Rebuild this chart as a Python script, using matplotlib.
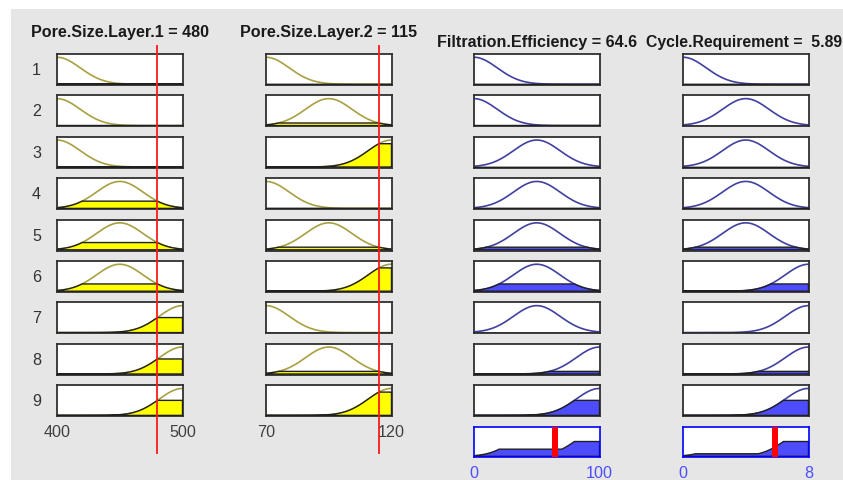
import numpy as np
import matplotlib
matplotlib.use("Agg")
import matplotlib.pyplot as plt
from matplotlib.patches import Rectangle, Polygon
from matplotlib import transforms

plt.rcParams['font.family'] = ['Liberation Sans', 'DejaVu Sans']

# ---------------- data ----------------
input_names = ["Pore.Size.Layer.1", "Pore.Size.Layer.2"]
input_ranges = [(400, 500), (70, 120)]
input_values = [480, 115]
input_value_labels = ["480", "115"]

output_names = ["Filtration.Efficiency", "Cycle.Requirement"]
output_ranges = [(0, 100), (0, 8)]
output_values = [64.6, 5.89]
output_value_labels = ["64.6", " 5.89"]

# gaussian MF centres (fraction of range) : low, mid, high ; common width
mf_centers = [0.0, 0.5, 1.0]
mf_sigma = 0.185

# rules: (input1 MF, input2 MF, output1 MF, output2 MF), 1-based
rules = [
    (1, 1, 1, 1),
    (1, 2, 1, 2),
    (1, 3, 2, 2),
    (2, 1, 2, 2),
    (2, 2, 2, 2),
    (2, 3, 2, 3),
    (3, 1, 2, 3),
    (3, 2, 3, 3),
    (3, 3, 3, 3),
]
rule_labels = [str(i + 1) for i in range(len(rules))]

# ---------------- styles ----------------
W, H = 843, 481
DPI = 100
bg_gray = "#e6e6e6"
in_line = "#a8a040"
in_fill = "#ffff00"
out_line = "#4040a0"
out_fill = "#4d4dff"
frame_col = "#303030"
FS = 11.6

col_x0 = [57, 266, 474, 683]
col_w = 125.5
row_top0 = 55
row_step = 41.4
row_h = 31

fig = plt.figure(figsize=(W / DPI, H / DPI), dpi=DPI, facecolor="white")
bgax = fig.add_axes([0, 0, 1, 1])
bgax.set_xlim(0, W)
bgax.set_ylim(H, 0)
bgax.axis("off")
bgax.add_patch(Rectangle((11, 10), W, H, color=bg_gray, lw=0))


def rect(x0, ytop, w, h):
    return [x0 / W, 1 - (ytop + h) / H, w / W, h / H]


def gauss(xf, c):
    return np.exp(-((xf - c) ** 2) / (2 * mf_sigma ** 2))


xf = np.linspace(0, 1, 301)

# input memberships and firing strengths
in_mu = []
for k in range(2):
    lo, hi = input_ranges[k]
    vf = (input_values[k] - lo) / (hi - lo)
    in_mu.append([gauss(vf, c) for c in mf_centers])
strengths = [min(in_mu[0][r[0] - 1], in_mu[1][r[1] - 1]) for r in rules]

YLIM = (-0.03, 1.12)


def style_box(ax, edge=frame_col, lw=1.3):
    ax.set_xticks([])
    ax.set_yticks([])
    ax.set_facecolor("white")
    for s in ax.spines.values():
        s.set_color(edge)
        s.set_linewidth(lw)


for i, r in enumerate(rules):
    ytop = row_top0 + i * row_step
    fig.text(36.5 / W, 1 - (ytop + row_h / 2) / H, rule_labels[i],
             ha="center", va="center", fontsize=FS, color="#333333")
    # inputs
    for k in range(2):
        lo, hi = input_ranges[k]
        ax = fig.add_axes(rect(col_x0[k], ytop, col_w, row_h))
        style_box(ax)
        ax.set_xlim(lo, hi)
        ax.set_ylim(*YLIM)
        xs = lo + xf * (hi - lo)
        mu = gauss(xf, mf_centers[r[k] - 1])
        level = in_mu[k][r[k] - 1]
        ax.plot(xs, mu, color=in_line, lw=1.2, zorder=2)
        clip = np.minimum(mu, level)
        poly = np.column_stack([np.r_[lo, xs, hi], np.r_[0, clip, 0]])
        ax.add_patch(Polygon(poly, closed=True, facecolor=in_fill,
                             edgecolor="#202020", lw=1.0, zorder=3))
    # outputs
    for k in range(2):
        lo, hi = output_ranges[k]
        ax = fig.add_axes(rect(col_x0[2 + k], ytop, col_w, row_h))
        style_box(ax)
        ax.set_xlim(lo, hi)
        ax.set_ylim(*YLIM)
        xs = lo + xf * (hi - lo)
        mu = gauss(xf, mf_centers[r[2 + k] - 1])
        ax.plot(xs, mu, color=out_line, lw=1.2, zorder=2)
        clip = np.minimum(mu, strengths[i])
        poly = np.column_stack([np.r_[lo, xs, hi], np.r_[0, clip, 0]])
        ax.add_patch(Polygon(poly, closed=True, facecolor=out_fill,
                             edgecolor="#202020", lw=1.0, zorder=3))

# aggregated outputs
agg_top = row_top0 + len(rules) * row_step
for k in range(2):
    lo, hi = output_ranges[k]
    ax = fig.add_axes(rect(col_x0[2 + k], agg_top, col_w, row_h - 0.5))
    style_box(ax, edge="#0000ff", lw=1.2)
    ax.set_xlim(lo, hi)
    ax.set_ylim(*YLIM)
    xs = lo + xf * (hi - lo)
    agg = np.zeros_like(xf)
    for i, r in enumerate(rules):
        agg = np.maximum(agg, np.minimum(gauss(xf, mf_centers[r[2 + k] - 1]), strengths[i]))
    poly = np.column_stack([np.r_[lo, xs, hi], np.r_[0, agg, 0]])
    ax.add_patch(Polygon(poly, closed=True, facecolor=out_fill,
                         edgecolor="#202020", lw=1.0, zorder=2))
    ax.axvline(output_values[k], color="#ff0000", lw=4.3, zorder=4)
    tr = transforms.blended_transform_factory(ax.transData, fig.transFigure)
    for v in (lo, hi):
        ax.text(v, 1 - 474 / H, f"{v:g}", transform=tr, ha="center", va="center",
                fontsize=FS, color="#4d4dff", clip_on=False)
    title = f"{output_names[k]} = {output_value_labels[k]}"
    if k == 0:
        fig.text((col_x0[2] + col_w / 2) / W, 1 - 42 / H, title,
                 ha="center", va="center", fontsize=FS, fontweight="bold", color="#1a1a1a")
    else:
        fig.text(842 / W, 1 - 42 / H, title,
                 ha="right", va="center", fontsize=FS - 0.3, fontweight="bold", color="#1a1a1a")

# input titles, ticks, red value lines
for k in range(2):
    lo, hi = input_ranges[k]
    cx = (col_x0[k] + col_w / 2) / W
    fig.text(cx, 1 - 33 / H, f"{input_names[k]} = {input_value_labels[k]}",
             ha="center", va="center", fontsize=FS, fontweight="bold", color="#1a1a1a")
    ov = fig.add_axes(rect(col_x0[k], 46, col_w, 455 - 46))
    ov.set_xlim(lo, hi)
    ov.set_ylim(0, 1)
    ov.axis("off")
    ov.patch.set_alpha(0)
    ov.axvline(input_values[k], color="#ff1a1a", lw=1.3)
    tr = transforms.blended_transform_factory(ov.transData, fig.transFigure)
    for v in (lo, hi):
        ov.text(v, 1 - 432.5 / H, f"{v:g}", transform=tr, ha="center", va="center",
                fontsize=FS, color="#404040", clip_on=False)

fig.savefig("out.png", dpi=DPI, facecolor="white")
